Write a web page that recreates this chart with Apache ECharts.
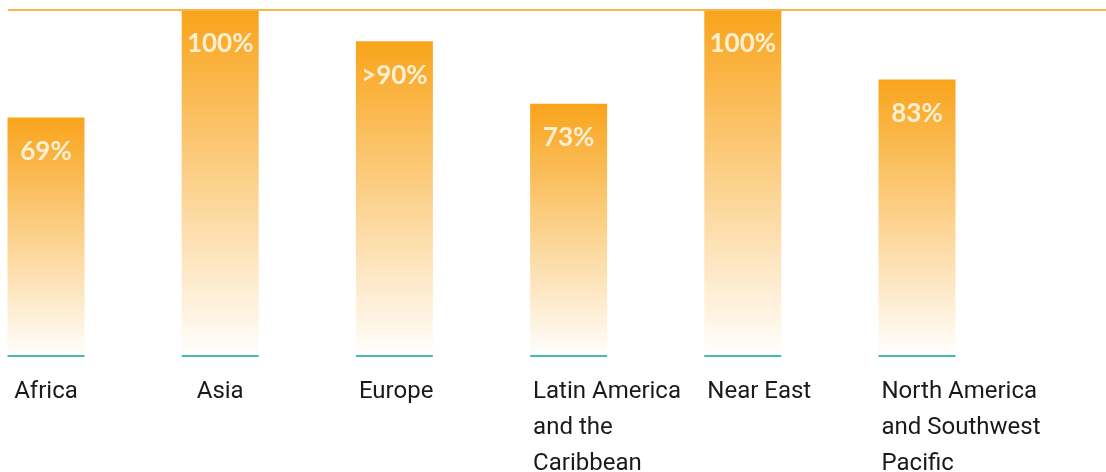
<!DOCTYPE html>
<html>
<head>
<meta charset="utf-8">
<script src="https://cdn.jsdelivr.net/npm/echarts@6/dist/echarts.min.js"></script>
<style>
html,body{margin:0;padding:0;background:#fff;}
#main{width:1106px;height:472px;}
</style>
</head>
<body>
<div id="main"></div>
<script>
const categories = ['Africa', 'Asia', 'Europe', 'Latin America\nand the\nCaribbean', 'Near East', 'North America\nand Southwest\nPacific'];
const values = [69, 100, 91, 73, 100, 80];
const valueLabels = ['69%', '100%', '>90%', '73%', '100%', '83%'];

const BAR_W = 77;
const LABEL_FONT = '24px Roboto';
const measureCtx = document.createElement('canvas').getContext('2d');
measureCtx.font = LABEL_FONT;
function textWidth(s) {
  return Math.max.apply(null, s.split('\n').map(l => measureCtx.measureText(l).width));
}

const chart = echarts.init(document.getElementById('main'), null, {renderer: 'canvas'});

const option = {
  animation: false,
  backgroundColor: '#ffffff',
  grid: {left: 46, right: 189, top: 10, bottom: 115, containLabel: false},
  xAxis: {
    type: 'category',
    data: categories,
    boundaryGap: false,
    axisLine: {show: false},
    axisTick: {show: false},
    axisLabel: {show: false},
    splitLine: {show: false}
  },
  yAxis: {
    type: 'value',
    min: 0,
    max: 100,
    show: false,
    splitLine: {show: false}
  },
  series: [
    {
      type: 'bar',
      z: 2,
      data: values,
      barWidth: BAR_W,
      itemStyle: {
        color: {
          type: 'linear', x: 0, y: 0, x2: 0, y2: 1,
          colorStops: [
            {offset: 0, color: '#F9A41B'},
            {offset: 1, color: '#FFFFFF'}
          ]
        }
      },
      label: {
        show: true,
        position: 'insideTop',
        distance: 21,
        formatter: p => valueLabels[p.dataIndex],
        color: 'rgba(255,244,225,0.92)',
        fontFamily: 'Lato',
        fontWeight: 'bold',
        fontSize: 26
      }
    },
    {
      type: 'custom',
      z: 5,
      clip: false,
      silent: true,
      data: categories.map((c, i) => [i, 0]),
      renderItem: function (params, api) {
        const p = api.coord([api.value(0), api.value(1)]);
        const half = BAR_W / 2;
        const name = categories[params.dataIndex];
        const wide = textWidth(name) > BAR_W - 6;
        return {
          type: 'group',
          children: [
            {
              type: 'rect',
              shape: {x: p[0] - half, y: p[1] - 2, width: BAR_W, height: 2},
              style: {fill: '#45BCB0'}
            },
            {
              type: 'text',
              x: wide ? p[0] - half + 3 : p[0],
              y: p[1] + 17,
              style: {
                text: name,
                align: wide ? 'left' : 'center',
                verticalAlign: 'top',
                fontFamily: 'Roboto',
                fontSize: 24,
                lineHeight: 36,
                fill: '#1a1a1a'
              }
            }
          ]
        };
      }
    }
  ]
};
chart.setOption(option);

const topY = chart.convertToPixel({yAxisIndex: 0}, 100);
chart.setOption({
  graphic: [{
    type: 'rect',
    z: 10,
    shape: {x: 8, y: topY - 1, width: 1098, height: 2},
    style: {fill: '#FBB44A'}
  }]
});
</script>
</body>
</html>
